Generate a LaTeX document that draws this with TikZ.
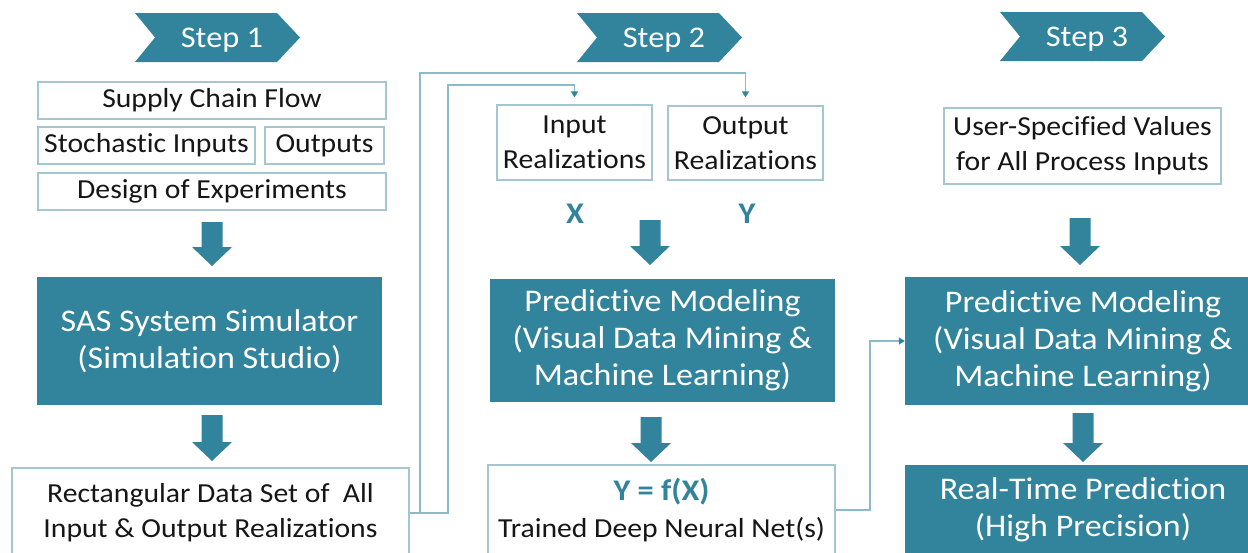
\documentclass[tikz,border=0pt]{standalone}
\usepackage{fontspec}
\setmainfont[FakeStretch=1.08,Ligatures={CommonOff,ContextualOff}]{Carlito}
\usetikzlibrary{arrows.meta}
\definecolor{teal}{HTML}{31849B}
\definecolor{boxline}{HTML}{A3C6D1}
\definecolor{connline}{HTML}{8DBAC8}
\definecolor{ink}{HTML}{161616}
\tikzset{
  whitebox/.style={draw=boxline, line width=1.2pt, fill=white, text=ink, align=center,
    inner sep=0pt, font=\fontsize{27.5}{35}\selectfont},
  tealbox/.style={fill=teal, text=white, align=center, inner sep=0pt,
    font=\fontsize{31.5}{37}\selectfont},
  steplabel/.style={text=white, font=\fontsize{30}{36}\selectfont, inner sep=0pt},
  varlabel/.style={text=teal, font=\fontsize{30}{36}\selectfont\bfseries, inner sep=0pt},
  conn/.style={draw=connline, line width=1.3pt,
    -{Triangle[width=7pt,length=6pt,color=teal]}},
}
% chevron banner: left edge, top, bottom
\newcommand{\stepbanner}[3]{%
  \fill[teal] (#1,#2) -- ({#1+142},#2) -- ({#1+165},{(#2+#3)/2}) -- ({#1+142},#3)
    -- (#1,#3) -- ({#1+20},{(#2+#3)/2}) -- cycle;}
% block arrow: centre x, top y, tip y
\newcommand{\blockarrow}[3]{%
  \fill[teal] ({#1-10.5},#2) -- ({#1+10.5},#2) -- ({#1+10.5},{#3-19}) -- ({#1+20},{#3-19})
    -- (#1,#3) -- ({#1-20},{#3-19}) -- ({#1-10.5},{#3-19}) -- cycle;}
\begin{document}
\begin{tikzpicture}[x=1pt,y=-1pt]
\clip (0,0) rectangle (1248,552);
\fill[white] (0,0) rectangle (1248,552);

% ---- step banners
\stepbanner{135}{13}{62}
\node[steplabel] (step1) at (222,40) {Step 1};
\stepbanner{577}{13}{62}
\node[steplabel] (step2) at (664,40) {Step 2};
\stepbanner{1000}{12}{61}
\node[steplabel] (step3) at (1087,39) {Step 3};

% ---- step 1
\node[whitebox, minimum width=348, minimum height=37] (scf) at (212,100.5) {Supply Chain Flow};
\node[whitebox, minimum width=217, minimum height=37] (stoch) at (146.5,145.5) {Stochastic Inputs};
\node[whitebox, minimum width=119, minimum height=37] (outs) at (324.5,145.5) {Outputs};
\node[whitebox, minimum width=348, minimum height=37] (doe) at (212,191.5) {Design of Experiments};
\blockarrow{212}{222}{266}
\node[tealbox, minimum width=345, minimum height=128] (sas) at (209.5,341)
  {SAS System Simulator\\(Simulation Studio)};
\blockarrow{212}{415}{461}
\node[whitebox, minimum width=397, minimum height=90] (rect) at (210.5,513)
  {Rectangular Data Set of\ \ All\\Input \& Output Realizations};

% ---- step 2
\node[whitebox, minimum width=155, minimum height=75] (inreal) at (574.5,142.5)
  {Input\\Realizations};
\node[whitebox, minimum width=155, minimum height=74] (outreal) at (745.5,143)
  {Output\\Realizations};
\node[varlabel] (xlab) at (575,214) {X};
\node[varlabel] (ylab) at (747,214) {Y};
\blockarrow{650}{220}{265}
\node[tealbox, minimum width=345, minimum height=123] (pm2) at (662.5,340.5)
  {Predictive Modeling\\(Visual Data Mining \&\\Machine Learning)};
\blockarrow{651}{417}{462}
\node[whitebox, minimum width=347, minimum height=90] (yfx) at (661.5,510)
  {{\fontsize{30}{36}\selectfont\bfseries\color{teal}Y = f(X)}\\[2pt]Trained Deep Neural Net(s)};

% ---- step 3
\node[whitebox, minimum width=277, minimum height=76] (usv) at (1082.5,146)
  {User-Specified Values\\for All Process Inputs};
\blockarrow{1080}{218}{265}
\node[tealbox, minimum width=356, minimum height=128] (pm3) at (1083,341)
  {Predictive Modeling\\(Visual Data Mining \&\\Machine Learning)};
\blockarrow{1083}{413}{462}
\node[tealbox, minimum width=356, minimum height=90] (rtp) at (1083,510)
  {Real-Time Prediction\\(High Precision)};

% ---- connectors
\coordinate (j1) at (420,73);
\coordinate (j2) at (448,85);
\coordinate (j3) at (870,341);
\draw[conn, shorten >=8pt] (rect.east) -| (j1) -| (outreal.north);
\draw[conn, shorten >=7pt] (rect.east) -| (j2) -| (inreal.north);
\draw[conn] (yfx.east) -| (j3) -- (pm3.west);
\end{tikzpicture}
\end{document}
